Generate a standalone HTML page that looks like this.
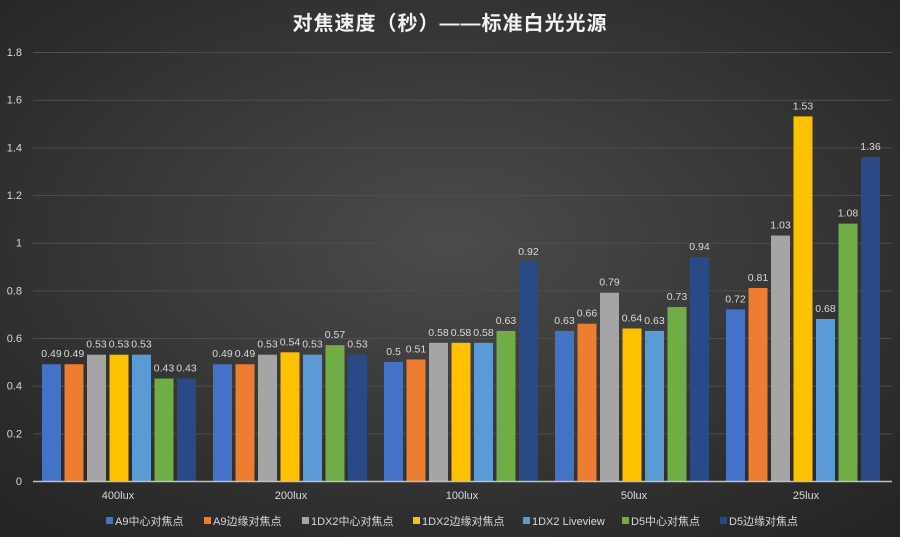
<!DOCTYPE html>
<html><head><meta charset="utf-8"><style>
html,body{margin:0;padding:0;width:900px;height:537px;overflow:hidden;background:#333}
</style></head><body>
<svg width="900" height="537" xmlns="http://www.w3.org/2000/svg" font-family="Liberation Sans, Noto Sans CJK SC, sans-serif">
<defs>
<radialGradient id="bg" cx="50%" cy="45%" r="70%">
<stop offset="0" stop-color="#4b4b4b"/><stop offset="1" stop-color="#252525"/>
</radialGradient>
</defs>
<rect width="900" height="537" fill="url(#bg)"/>
<text x="450" y="30" fill="#f2f2f2" font-size="20" font-weight="bold" text-anchor="middle" letter-spacing="1">对焦速度（秒）——标准白光光源</text>
<g id="grid" stroke="#4e4e4e" stroke-width="1"></g>
<g id="ylab" fill="#d9d9d9" font-size="11" text-anchor="end"></g>
<g id="bars"></g>
<line x1="33" y1="481.5" x2="892" y2="481.5" stroke="#bfbfbf" stroke-width="1.5"/>
<g fill="#d9d9d9" font-size="11" text-anchor="middle">
<text x="118" y="499">400lux</text><text x="291" y="499">200lux</text><text x="462" y="499">100lux</text><text x="634" y="499">50lux</text><text x="806" y="499">25lux</text>
</g>
<g id="leg" fill="#d9d9d9" font-size="11"></g>
<script>
var ns="http://www.w3.org/2000/svg";
function el(p,t,a,txt){var e=document.createElementNS(ns,t);for(var k in a)e.setAttribute(k,a[k]);if(txt!=null)e.textContent=txt;document.getElementById(p).appendChild(e);}
function Y(v){return 481-v*238.3;}
for(var i=1;i<=9;i++){var v=i*0.2;el('grid','line',{x1:33,x2:892,y1:Y(v)+0.5,y2:Y(v)+0.5});}
for(var i=0;i<=9;i++){var v=i*0.2;el('ylab','text',{x:22,y:Y(v)+4},(Math.round(v*10)/10).toString());}
var cols=["#4472c4","#ed7d31","#a5a5a5","#ffc000","#5b9bd5","#70ad47","#2a4a85"];
var data=[[0.49,0.49,0.53,0.53,0.53,0.43,0.43],[0.49,0.49,0.53,0.54,0.53,0.57,0.53],[0.5,0.51,0.58,0.58,0.58,0.63,0.92],[0.63,0.66,0.79,0.64,0.63,0.73,0.94],[0.72,0.81,1.03,1.53,0.68,1.08,1.36]];
for(var g=0;g<5;g++)for(var i=0;i<7;i++){var v=data[g][i];var x=33+171*g+9+22.5*i;
el('bars','rect',{x:x,y:Y(v),width:19,height:481-Y(v),fill:cols[i]});
el('bars','text',{x:x+9.5,y:Y(v)-7,fill:"#d9d9d9","font-size":"10.5","text-anchor":"middle"},String(v));}
var names=["A9中心对焦点","A9边缘对焦点","1DX2中心对焦点","1DX2边缘对焦点","1DX2 Liveview","D5中心对焦点","D5边缘对焦点"];
var lx=[106,204,302,413,523,622,720];
for(var i=0;i<7;i++){el('leg','rect',{x:lx[i],y:517,width:7,height:7,fill:cols[i]});el('leg','text',{x:lx[i]+9,y:525},names[i]);}
</script>
</svg>
</body></html>
